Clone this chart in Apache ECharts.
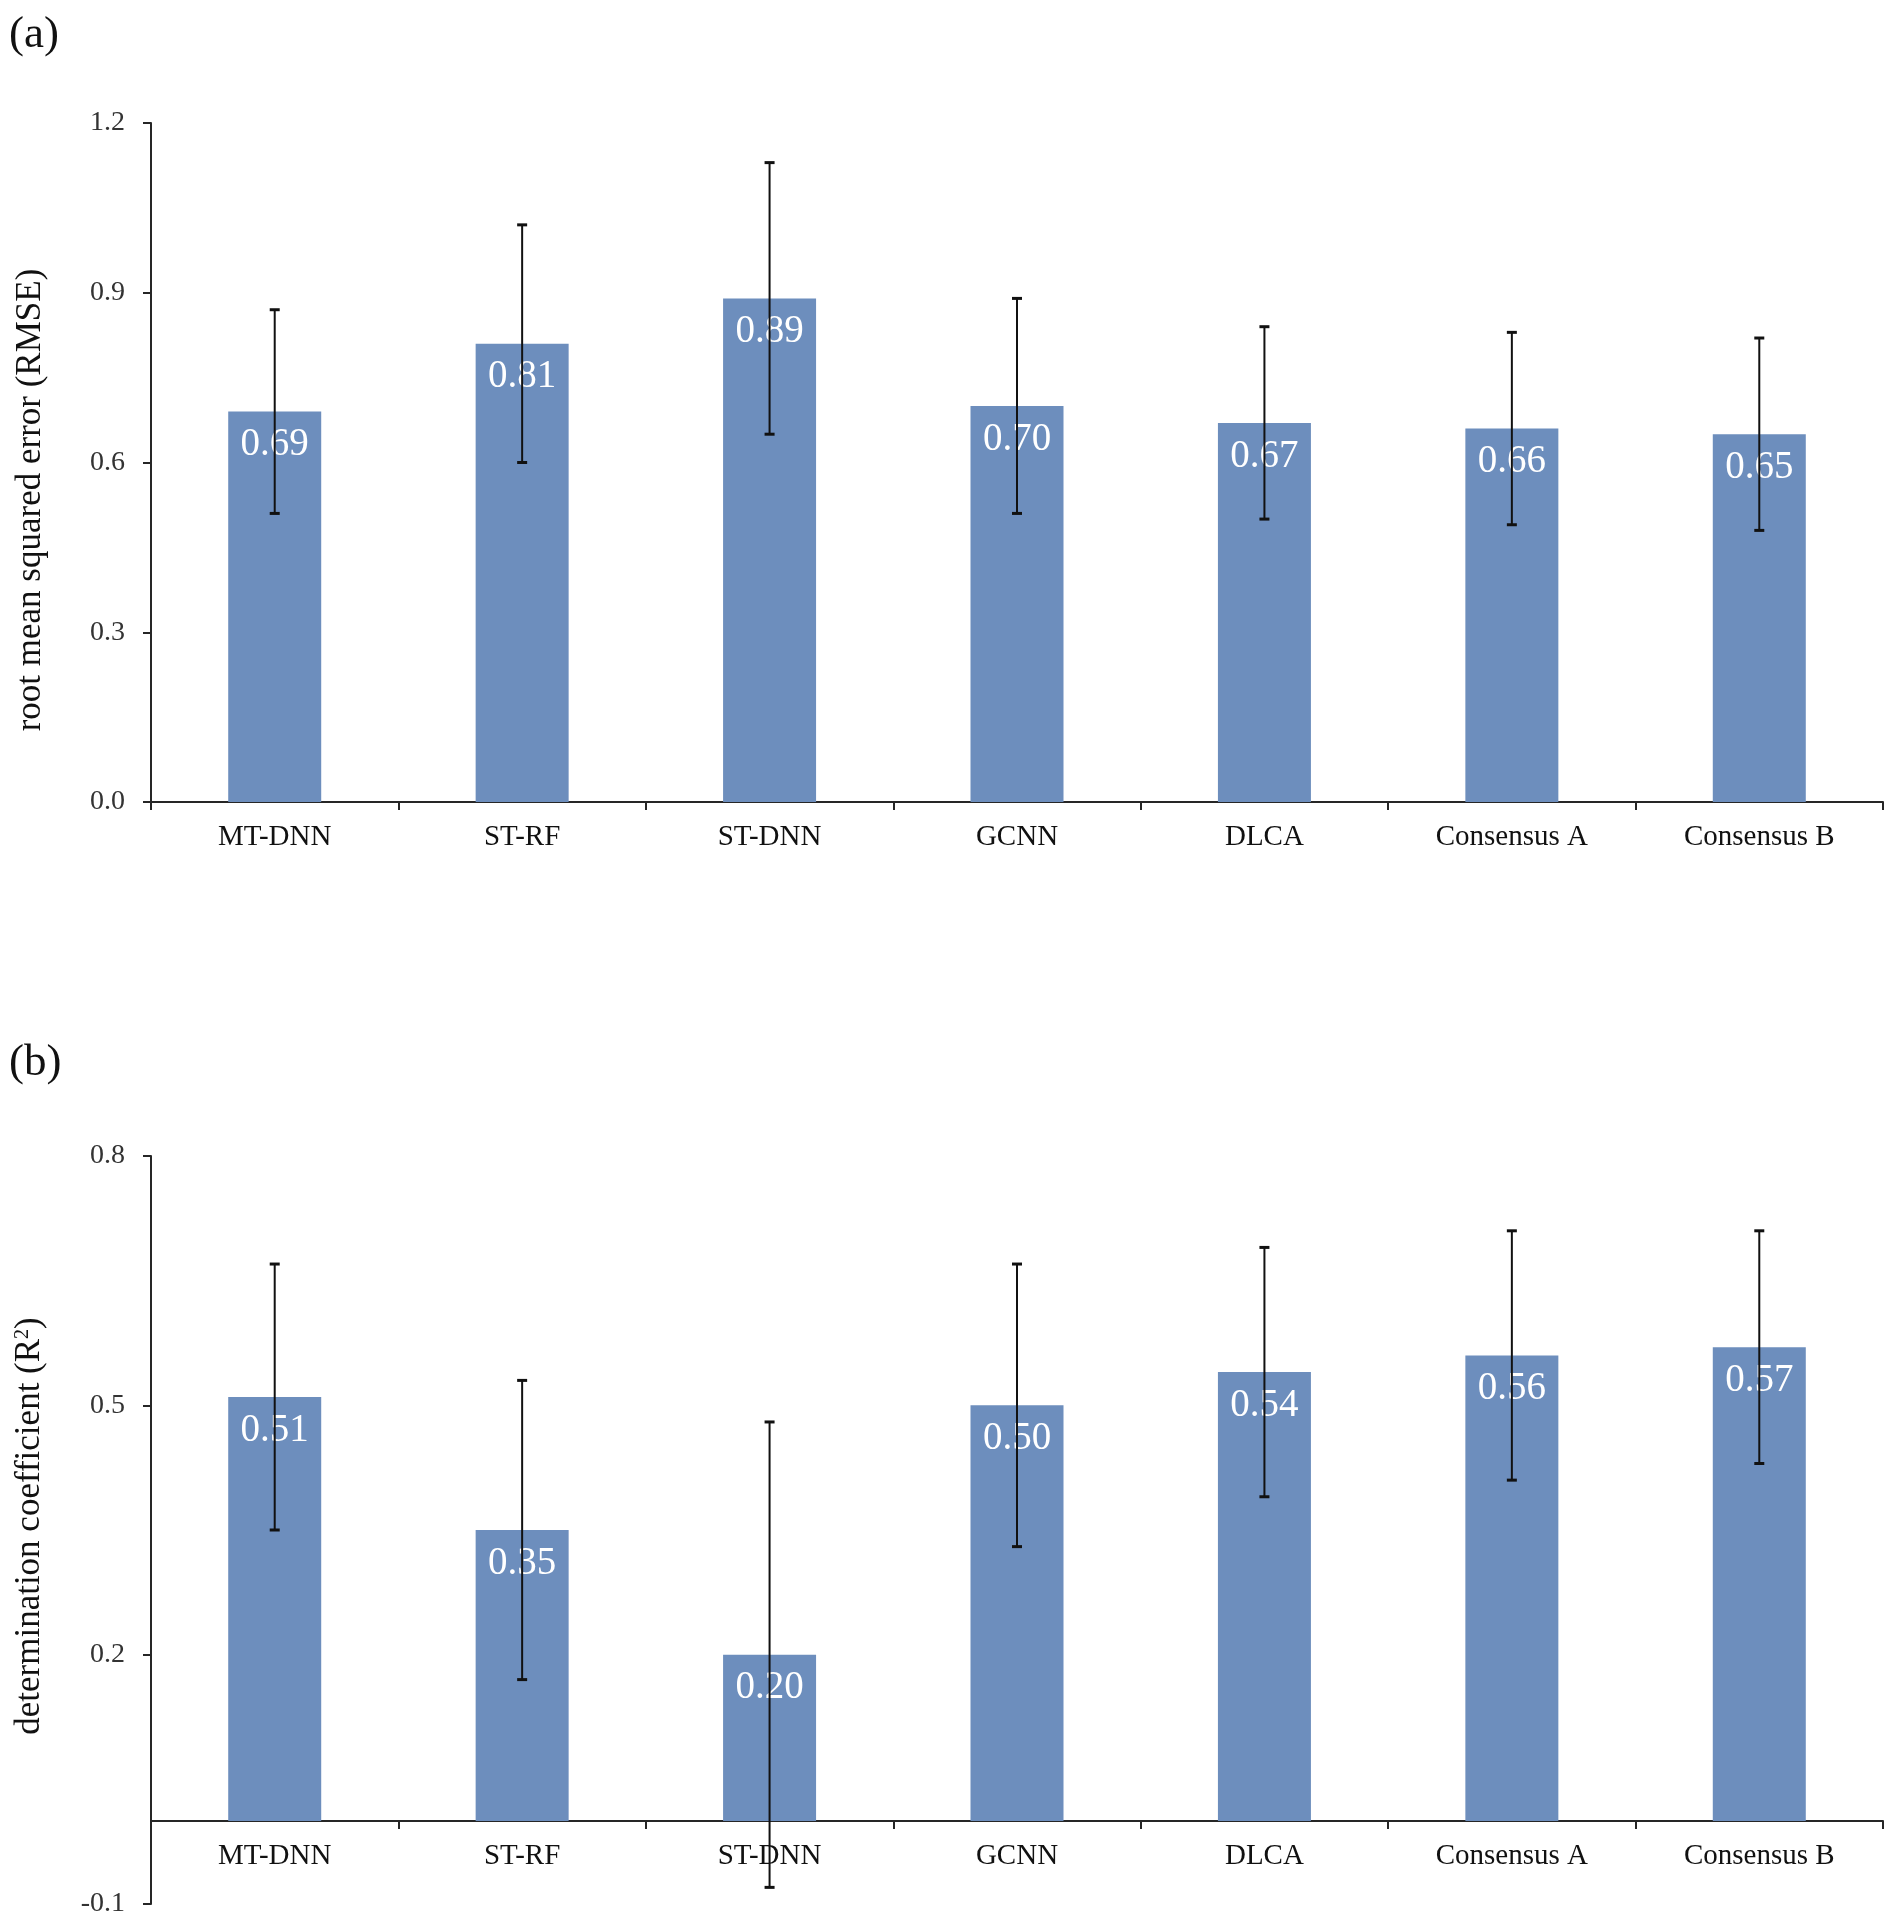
<!DOCTYPE html>
<html><head><meta charset="utf-8">
<script src="https://cdn.jsdelivr.net/npm/echarts@6/dist/echarts.min.js"></script>
<style>html,body{margin:0;padding:0;background:#fff}#c{width:1894px;height:1920px}</style>
</head><body><div id="c"></div>
<script>
const categories = ['MT-DNN','ST-RF','ST-DNN','GCNN','DLCA','Consensus A','Consensus B'];
const rmseValues = [0.69,0.81,0.89,0.70,0.67,0.66,0.65];
const rmseLower  = [0.51,0.60,0.65,0.51,0.50,0.49,0.48];
const rmseUpper  = [0.87,1.02,1.13,0.89,0.84,0.83,0.82];
const r2Values = [0.51,0.35,0.20,0.50,0.54,0.56,0.57];
const r2Lower  = [0.35,0.17,-0.08,0.33,0.39,0.41,0.43];
const r2Upper  = [0.67,0.53,0.48,0.67,0.69,0.71,0.71];
const rmseTicks = [0.0,0.3,0.6,0.9,1.2];
const r2Ticks = [-0.1,0.2,0.5,0.8];
const rmseTitle = 'root mean squared error (RMSE)';
const r2Title = 'determination coefficient (R{sup|2})';

const FONT = '"Liberation Serif", "Times New Roman", serif';
const BAR = '#6d8ebd';
const AXIS = '#262626';
const GRID_B_H = 748;

const chart = echarts.init(document.getElementById('c'), null, {renderer:'canvas'});

function errItem(params, api) {
  const i = api.value(0);
  const top = api.coord([i, api.value(2)]);
  const bot = api.coord([i, api.value(1)]);
  const w = 5;
  const st = {stroke:'#111', lineWidth:2};
  const cap = {stroke:'#111', lineWidth:3};
  return {type:'group', children:[
    {type:'line', shape:{x1:top[0], y1:top[1], x2:bot[0], y2:bot[1]}, style:st},
    {type:'line', shape:{x1:top[0]-w, y1:top[1], x2:top[0]+w, y2:top[1]}, style:cap},
    {type:'line', shape:{x1:bot[0]-w, y1:bot[1], x2:bot[0]+w, y2:bot[1]}, style:cap}
  ]};
}

function xAxisCfg(gi, offset) {
  return {
    type:'category', gridIndex:gi, data:categories, position:'bottom', offset:offset,
    axisLine:{show:true, onZero:false, lineStyle:{color:AXIS, width:2}},
    axisTick:{show:true, inside:false, length:8, lineStyle:{color:AXIS, width:2}},
    axisLabel:{fontFamily:FONT, fontSize:29, color:'#111', margin:21, interval:0},
    splitLine:{show:false}
  };
}
function yAxisCfg(gi, ticks) {
  return {
    type:'value', gridIndex:gi,
    min:ticks[0], max:ticks[ticks.length-1], interval:+(ticks[1]-ticks[0]).toFixed(6),
    axisLine:{show:true, onZero:false, lineStyle:{color:AXIS, width:2}},
    axisTick:{show:true, inside:false, length:8, lineStyle:{color:AXIS, width:2}},
    axisLabel:{fontFamily:FONT, fontSize:28, color:'#333', margin:26,
      formatter:v=>(+v).toFixed(1)},
    splitLine:{show:false}
  };
}

// distance of the zero line above the bottom of grid b
const zeroOffsetB = -(0 - r2Ticks[0]) / (r2Ticks[r2Ticks.length-1] - r2Ticks[0]) * GRID_B_H;

const labelCfg = {show:true, position:'insideTop', distance:14, color:'#fff',
  fontFamily:FONT, fontSize:39, formatter:p=>p.value.toFixed(2)};

chart.setOption({
  animation:false,
  backgroundColor:'#fff',
  title:[
    {text:'(a)', left:4, top:8, textStyle:{fontFamily:FONT, fontSize:45, fontWeight:'normal', color:'#111'}},
    {text:'(b)', left:4, top:1036, textStyle:{fontFamily:FONT, fontSize:45, fontWeight:'normal', color:'#111'}}
  ],
  graphic:[
    {type:'text', x:31, y:500, rotation:Math.PI/2,
      style:{text:rmseTitle, font:'35px ' + FONT, fill:'#111', align:'center', verticalAlign:'middle'}},
    {type:'text', x:30, y:1526, rotation:Math.PI/2,
      style:{text:r2Title, font:'35px ' + FONT, fill:'#111', align:'center', verticalAlign:'middle',
        rich:{sup:{fontFamily:FONT, fontSize:20, verticalAlign:'top', padding:[0,0,14,0], fill:'#111'}}}}
  ],
  grid:[
    {left:151, top:123, width:1732, height:679, containLabel:false, outerBoundsMode:'none'},
    {left:151, top:1156, width:1732, height:GRID_B_H, containLabel:false, outerBoundsMode:'none'}
  ],
  xAxis:[xAxisCfg(0, 0), xAxisCfg(1, zeroOffsetB)],
  yAxis:[yAxisCfg(0, rmseTicks), yAxisCfg(1, r2Ticks)],
  series:[
    {type:'bar', xAxisIndex:0, yAxisIndex:0, data:rmseValues, barWidth:93,
      itemStyle:{color:BAR}, label:labelCfg, z:2},
    {type:'custom', xAxisIndex:0, yAxisIndex:0, renderItem:errItem, z:10,
      data:categories.map((c,i)=>[i, rmseLower[i], rmseUpper[i]])},
    {type:'bar', xAxisIndex:1, yAxisIndex:1, data:r2Values, barWidth:93,
      itemStyle:{color:BAR}, label:labelCfg, z:2},
    {type:'custom', xAxisIndex:1, yAxisIndex:1, renderItem:errItem, z:10,
      data:categories.map((c,i)=>[i, r2Lower[i], r2Upper[i]])}
  ]
});
</script></body></html>
